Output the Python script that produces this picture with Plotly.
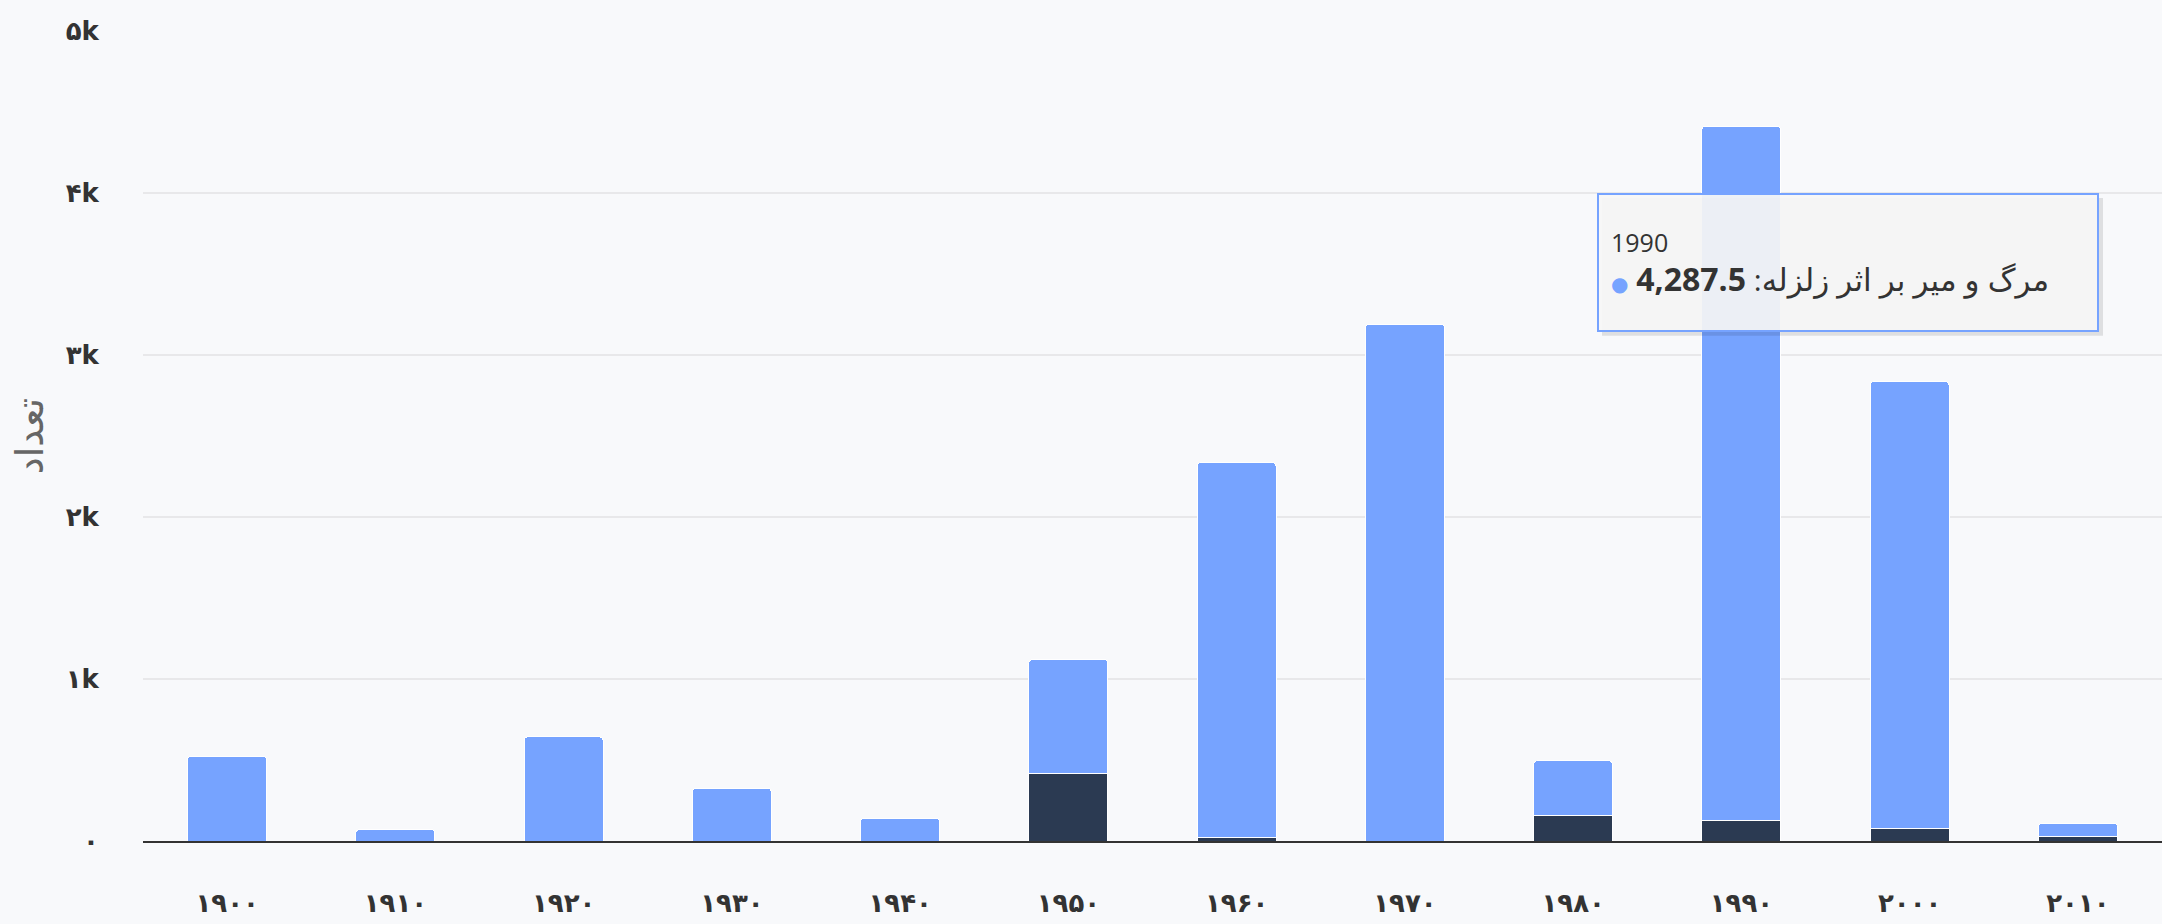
import plotly.graph_objects as go

years = ["1900", "1910", "1920", "1930", "1940", "1950",
         "1960", "1970", "1980", "1990", "2000", "2010"]
year_labels = ["۱۹۰۰", "۱۹۱۰", "۱۹۲۰", "۱۹۳۰", "۱۹۴۰", "۱۹۵۰",
               "۱۹۶۰", "۱۹۷۰", "۱۹۸۰", "۱۹۹۰", "۲۰۰۰", "۲۰۱۰"]

# dark series (bottom of stack)
other_deaths = [0, 0, 0, 0, 0, 415, 20, 0, 160, 125, 78, 25]
# light series: earthquake deaths
quake_deaths = [524, 72, 643, 325, 140, 705, 2315, 3190, 335, 4287.5, 2757, 84]

y_tickvals = [0, 1000, 2000, 3000, 4000, 5000]
y_ticktext = ["۰", "۱k", "۲k", "۳k", "۴k", "۵k"]

series_dark_name = "مرگ و میر بر اثر سونامی"
series_light_name = "مرگ و میر بر اثر زلزله"
y_title = "تعداد"

DARK = "#2b3a52"
LIGHT = "#76a3ff"
BG = "#f8f9fb"

fig = go.Figure()
fig.add_trace(go.Bar(x=years, y=other_deaths, name=series_dark_name,
                     marker=dict(color=DARK, line=dict(color="white", width=1))))
fig.add_trace(go.Bar(x=years, y=quake_deaths, name=series_light_name,
                     marker=dict(color=LIGHT, line=dict(color="white", width=1))))

x_tick_font = dict(family="DejaVu Sans", size=26, color="#333333", weight="bold")
y_tick_font = dict(family="DejaVu Sans", size=26, color="#333333", weight="bold")

fig.update_layout(
    width=2162, height=924,
    barmode="stack", bargap=0.53, barcornerradius=4,
    paper_bgcolor=BG, plot_bgcolor=BG,
    showlegend=False,
    margin=dict(l=143, r=0, t=31, b=83),
    xaxis=dict(
        type="category", tickvals=years, ticktext=year_labels,
        tickfont=x_tick_font, ticks="outside", ticklen=38,
        tickcolor="rgba(0,0,0,0)", showline=True, linecolor="#333333",
        linewidth=2, showgrid=False, automargin=False,
    ),
    yaxis=dict(
        range=[0, 5000], tickvals=y_tickvals, ticktext=y_ticktext,
        tickfont=y_tick_font, ticks="outside", ticklen=38,
        tickcolor="rgba(0,0,0,0)", gridcolor="#e8e8ea", gridwidth=2,
        zeroline=False, showline=False, automargin=False,
        title=dict(text=y_title, standoff=10,
                   font=dict(family="DejaVu Sans", size=38, color="#666666")),
    ),
)

# shadow behind the tooltip box
fig.add_shape(type="rect", xref="paper", yref="paper",
              x0=(1602 - 143) / 2019, x1=(2103 - 143) / 2019,
              y0=(841.5 - 336) / 810.5, y1=(841.5 - 198) / 810.5,
              line=dict(width=0), fillcolor="rgba(0,0,0,0.10)", layer="above")

tooltip_text = (
    '<span style="font-size:25px">1990</span><br>'
    '<span style="color:#76a3ff;font-size:20px">●</span> '
    '<span style="font-size:32px"><b>4,287.5</b></span> :'
    '<span style="font-size:31px">' + series_light_name + '</span>'
)
fig.add_annotation(
    xref="paper", yref="paper", x=0.8447, y=0.7144,
    xanchor="center", yanchor="middle",
    text=tooltip_text, showarrow=False, align="left",
    width=474, height=111, borderpad=12,
    bordercolor="#76a3ff", borderwidth=2,
    bgcolor="rgba(246,246,246,0.93)",
    font=dict(family="Open Sans, DejaVu Sans", size=30, color="#333333"),
)

fig.write_html("out.html")
